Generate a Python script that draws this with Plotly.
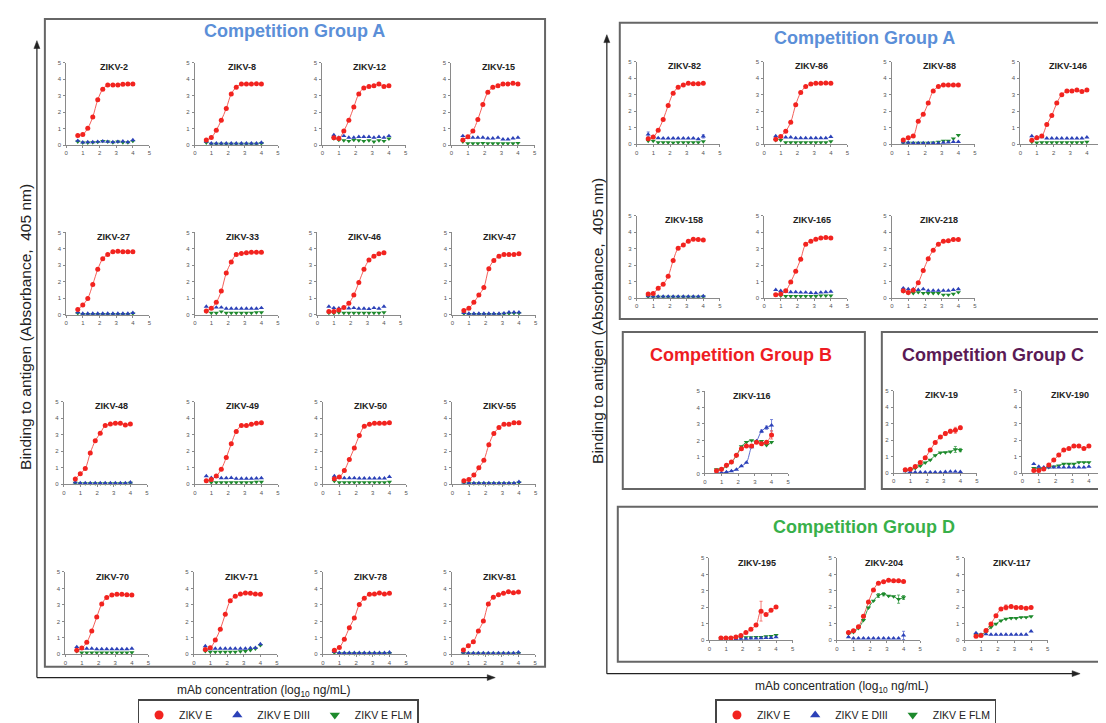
import plotly.graph_objects as go

# ---------------- data ----------------
conc_log10 = [0.69, 0.99, 1.29, 1.59, 1.89, 2.19, 2.49, 2.80, 3.10, 3.40, 3.70, 4.00]
series_names = ["ZIKV E", "ZIKV E DIII", "ZIKV E FLM"]
axis_ticks = [0, 1, 2, 3, 4, 5]

# Left panel, Competition Group A
ZIKV_2_E = [0.58, 0.64, 1.02, 1.70, 2.74, 3.38, 3.64, 3.64, 3.64, 3.68, 3.70, 3.70]
ZIKV_2_DIII = [0.26, 0.16, 0.18, 0.18, 0.20, 0.22, 0.20, 0.18, 0.20, 0.22, 0.18, 0.30]
ZIKV_2_FLM = [0.20, 0.14, 0.14, 0.16, 0.18, 0.24, 0.20, 0.16, 0.20, 0.16, 0.16, 0.24]

ZIKV_8_E = [0.30, 0.45, 0.90, 1.50, 2.22, 3.10, 3.50, 3.70, 3.70, 3.70, 3.72, 3.70]
ZIKV_8_DIII = [0.20, 0.10, 0.10, 0.10, 0.10, 0.10, 0.10, 0.10, 0.10, 0.10, 0.10, 0.15]
ZIKV_8_FLM = [0.14, 0.07, 0.07, 0.07, 0.07, 0.07, 0.07, 0.07, 0.07, 0.07, 0.07, 0.10]

ZIKV_12_E = [0.44, 0.40, 0.85, 1.50, 2.30, 3.10, 3.45, 3.55, 3.60, 3.70, 3.55, 3.60]
ZIKV_12_DIII = [0.60, 0.45, 0.55, 0.45, 0.45, 0.50, 0.50, 0.50, 0.45, 0.50, 0.45, 0.55]
ZIKV_12_FLM = [0.40, 0.30, 0.28, 0.24, 0.30, 0.28, 0.24, 0.28, 0.20, 0.28, 0.24, 0.38]

ZIKV_15_E = [0.30, 0.50, 0.85, 1.55, 2.45, 3.20, 3.50, 3.60, 3.70, 3.70, 3.75, 3.70]
ZIKV_15_DIII = [0.55, 0.45, 0.45, 0.45, 0.45, 0.40, 0.40, 0.45, 0.35, 0.35, 0.40, 0.45]
ZIKV_15_FLM = [0.20, 0.10, 0.10, 0.10, 0.12, 0.10, 0.10, 0.10, 0.10, 0.10, 0.10, 0.12]

ZIKV_27_E = [0.32, 0.60, 1.00, 1.84, 2.76, 3.40, 3.66, 3.82, 3.86, 3.82, 3.82, 3.82]
ZIKV_27_DIII = [0.15, 0.08, 0.08, 0.08, 0.08, 0.08, 0.08, 0.08, 0.08, 0.08, 0.08, 0.12]
ZIKV_27_FLM = [0.10, 0.05, 0.05, 0.05, 0.05, 0.05, 0.05, 0.05, 0.05, 0.05, 0.05, 0.08]

ZIKV_33_E = [0.24, 0.40, 0.76, 1.44, 2.54, 3.20, 3.66, 3.72, 3.76, 3.80, 3.80, 3.80]
ZIKV_33_DIII = [0.50, 0.40, 0.45, 0.45, 0.38, 0.38, 0.38, 0.38, 0.38, 0.38, 0.38, 0.42]
ZIKV_33_FLM = [0.20, 0.12, 0.12, 0.20, 0.12, 0.12, 0.12, 0.12, 0.12, 0.12, 0.15, 0.15]

ZIKV_46_E = [0.20, 0.20, 0.30, 0.44, 0.70, 1.20, 1.96, 2.76, 3.32, 3.56, 3.70, 3.76]
ZIKV_46_DIII = [0.50, 0.42, 0.40, 0.42, 0.40, 0.42, 0.38, 0.38, 0.36, 0.42, 0.38, 0.50]
ZIKV_46_FLM = [0.12, 0.10, 0.15, 0.12, 0.12, 0.12, 0.12, 0.12, 0.12, 0.12, 0.12, 0.15]

ZIKV_47_E = [0.26, 0.40, 0.76, 1.20, 1.66, 2.80, 3.30, 3.56, 3.66, 3.66, 3.66, 3.70]
ZIKV_47_DIII = [0.12, 0.08, 0.08, 0.08, 0.08, 0.08, 0.08, 0.08, 0.10, 0.15, 0.15, 0.15]
ZIKV_47_FLM = [0.08, 0.05, 0.05, 0.05, 0.05, 0.05, 0.05, 0.05, 0.06, 0.08, 0.10, 0.10]

ZIKV_48_E = [0.32, 0.64, 0.96, 1.90, 2.64, 3.10, 3.56, 3.66, 3.70, 3.70, 3.60, 3.66]
ZIKV_48_DIII = [0.12, 0.08, 0.08, 0.08, 0.08, 0.08, 0.08, 0.08, 0.08, 0.08, 0.08, 0.12]
ZIKV_48_FLM = [0.08, 0.06, 0.06, 0.06, 0.06, 0.06, 0.06, 0.06, 0.06, 0.06, 0.06, 0.08]

ZIKV_49_E = [0.22, 0.30, 0.50, 0.92, 1.62, 2.46, 3.20, 3.56, 3.56, 3.64, 3.70, 3.74]
ZIKV_49_DIII = [0.50, 0.40, 0.45, 0.38, 0.38, 0.40, 0.35, 0.35, 0.35, 0.35, 0.36, 0.38]
ZIKV_49_FLM = [0.20, 0.12, 0.12, 0.12, 0.12, 0.12, 0.12, 0.12, 0.12, 0.12, 0.15, 0.15]

ZIKV_50_E = [0.34, 0.44, 0.84, 1.50, 2.20, 2.96, 3.52, 3.64, 3.70, 3.70, 3.70, 3.74]
ZIKV_50_DIII = [0.50, 0.42, 0.38, 0.38, 0.38, 0.36, 0.36, 0.36, 0.36, 0.36, 0.36, 0.45]
ZIKV_50_FLM = [0.20, 0.12, 0.12, 0.12, 0.12, 0.12, 0.12, 0.12, 0.12, 0.12, 0.12, 0.15]

ZIKV_55_E = [0.22, 0.30, 0.56, 1.00, 1.46, 2.40, 3.08, 3.44, 3.64, 3.64, 3.74, 3.74]
ZIKV_55_DIII = [0.12, 0.08, 0.08, 0.08, 0.08, 0.08, 0.08, 0.08, 0.08, 0.08, 0.08, 0.15]
ZIKV_55_FLM = [0.08, 0.05, 0.05, 0.05, 0.05, 0.05, 0.05, 0.05, 0.05, 0.05, 0.05, 0.10]

ZIKV_70_E = [0.25, 0.38, 0.73, 1.42, 2.26, 3.05, 3.45, 3.60, 3.64, 3.64, 3.62, 3.60]
ZIKV_70_DIII = [0.45, 0.35, 0.35, 0.35, 0.32, 0.32, 0.32, 0.32, 0.32, 0.32, 0.32, 0.35]
ZIKV_70_FLM = [0.20, 0.10, 0.10, 0.10, 0.10, 0.10, 0.10, 0.10, 0.10, 0.10, 0.10, 0.12]

ZIKV_71_E = [0.30, 0.40, 0.87, 1.52, 2.44, 3.25, 3.52, 3.66, 3.72, 3.70, 3.66, 3.64]
ZIKV_71_DIII = [0.50, 0.32, 0.35, 0.35, 0.35, 0.35, 0.35, 0.35, 0.35, 0.38, 0.40, 0.62]
ZIKV_71_FLM = [0.20, 0.15, 0.15, 0.15, 0.15, 0.15, 0.15, 0.18, 0.20, 0.25, 0.35, 0.55]

ZIKV_78_E = [0.25, 0.42, 0.92, 1.62, 2.20, 3.02, 3.40, 3.64, 3.66, 3.72, 3.66, 3.70]
ZIKV_78_DIII = [0.16, 0.10, 0.10, 0.10, 0.10, 0.10, 0.10, 0.10, 0.10, 0.10, 0.10, 0.12]
ZIKV_78_FLM = [0.10, 0.06, 0.06, 0.06, 0.06, 0.06, 0.06, 0.06, 0.06, 0.06, 0.06, 0.08]

ZIKV_81_E = [0.27, 0.53, 0.77, 1.42, 2.02, 3.05, 3.46, 3.62, 3.70, 3.80, 3.74, 3.78]
ZIKV_81_DIII = [0.12, 0.08, 0.08, 0.08, 0.08, 0.08, 0.08, 0.08, 0.08, 0.08, 0.08, 0.12]
ZIKV_81_FLM = [0.08, 0.05, 0.05, 0.05, 0.05, 0.05, 0.05, 0.05, 0.05, 0.05, 0.05, 0.08]

# Right panel, Competition Group A
ZIKV_82_E = [0.34, 0.44, 0.86, 1.50, 2.36, 3.10, 3.46, 3.60, 3.70, 3.68, 3.68, 3.70]
ZIKV_82_DIII = [0.60, 0.45, 0.38, 0.36, 0.36, 0.36, 0.36, 0.36, 0.36, 0.36, 0.32, 0.48]
ZIKV_82_FLM = [0.20, 0.20, 0.12, 0.12, 0.12, 0.10, 0.12, 0.12, 0.12, 0.12, 0.12, 0.18]

ZIKV_86_E = [0.30, 0.48, 0.80, 1.34, 2.40, 3.14, 3.50, 3.66, 3.70, 3.70, 3.72, 3.70]
ZIKV_86_DIII = [0.50, 0.45, 0.42, 0.42, 0.38, 0.38, 0.38, 0.38, 0.38, 0.38, 0.38, 0.46]
ZIKV_86_FLM = [0.25, 0.25, 0.12, 0.12, 0.12, 0.12, 0.12, 0.12, 0.12, 0.12, 0.12, 0.18]

ZIKV_88_E = [0.26, 0.40, 0.50, 1.40, 1.82, 2.50, 3.24, 3.50, 3.60, 3.60, 3.60, 3.60]
ZIKV_88_DIII = [0.12, 0.10, 0.08, 0.08, 0.08, 0.08, 0.08, 0.08, 0.10, 0.12, 0.15, 0.15]
ZIKV_88_FLM = [0.10, 0.08, 0.08, 0.08, 0.08, 0.08, 0.10, 0.15, 0.20, 0.20, 0.35, 0.55]

ZIKV_146_E = [0.24, 0.40, 0.50, 1.20, 1.74, 2.50, 3.00, 3.24, 3.24, 3.30, 3.20, 3.30]
ZIKV_146_DIII = [0.50, 0.42, 0.44, 0.36, 0.36, 0.36, 0.36, 0.36, 0.36, 0.36, 0.36, 0.42]
ZIKV_146_FLM = [0.15, 0.10, 0.12, 0.12, 0.12, 0.12, 0.12, 0.12, 0.12, 0.12, 0.12, 0.15]

ZIKV_158_E = [0.24, 0.28, 0.60, 0.84, 1.33, 2.28, 3.02, 3.22, 3.45, 3.57, 3.55, 3.52]
ZIKV_158_DIII = [0.12, 0.10, 0.10, 0.10, 0.10, 0.10, 0.10, 0.10, 0.10, 0.10, 0.10, 0.12]
ZIKV_158_FLM = [0.08, 0.07, 0.07, 0.07, 0.07, 0.07, 0.07, 0.07, 0.07, 0.07, 0.07, 0.08]

ZIKV_165_E = [0.20, 0.24, 0.44, 0.97, 1.63, 2.36, 3.26, 3.45, 3.57, 3.65, 3.67, 3.65]
ZIKV_165_DIII = [0.50, 0.44, 0.40, 0.36, 0.36, 0.34, 0.34, 0.32, 0.30, 0.34, 0.36, 0.40]
ZIKV_165_FLM = [0.20, 0.15, 0.12, 0.12, 0.12, 0.12, 0.12, 0.12, 0.12, 0.15, 0.15, 0.15]

ZIKV_218_E = [0.44, 0.34, 0.48, 0.93, 1.67, 2.38, 2.90, 3.27, 3.45, 3.47, 3.55, 3.55]
ZIKV_218_DIII = [0.60, 0.55, 0.55, 0.50, 0.55, 0.45, 0.45, 0.45, 0.45, 0.45, 0.50, 0.55]
ZIKV_218_FLM = [0.40, 0.30, 0.30, 0.35, 0.30, 0.30, 0.30, 0.30, 0.20, 0.20, 0.25, 0.35]

# Competition Group B
ZIKV_116_E = [0.16, 0.26, 0.50, 0.70, 1.10, 1.50, 1.66, 1.66, 1.90, 1.80, 1.90, 2.34]
ZIKV_116_DIII = [0.05, 0.04, 0.08, 0.14, 0.24, 0.45, 0.66, 1.60, 1.96, 2.56, 2.78, 2.92]
ZIKV_116_FLM = [0.24, 0.24, 0.44, 0.68, 1.08, 1.64, 1.90, 2.00, 1.92, 1.96, 1.72, 1.90]

# Competition Group C
ZIKV_19_E = [0.20, 0.24, 0.40, 0.64, 0.94, 1.40, 1.86, 2.20, 2.40, 2.54, 2.60, 2.76]
ZIKV_19_DIII = [0.12, 0.08, 0.06, 0.06, 0.06, 0.06, 0.06, 0.06, 0.08, 0.10, 0.10, 0.08]
ZIKV_19_FLM = [0.15, 0.20, 0.30, 0.44, 0.64, 0.80, 1.08, 1.24, 1.26, 1.30, 1.44, 1.40]

ZIKV_190_E = [0.16, 0.16, 0.26, 0.50, 0.80, 1.10, 1.40, 1.50, 1.64, 1.64, 1.50, 1.64]
ZIKV_190_DIII = [0.56, 0.40, 0.36, 0.36, 0.36, 0.36, 0.36, 0.36, 0.36, 0.36, 0.36, 0.40]
ZIKV_190_FLM = [0.30, 0.28, 0.30, 0.36, 0.40, 0.46, 0.56, 0.56, 0.56, 0.66, 0.66, 0.66]

# Competition Group D
ZIKV_195_E = [0.14, 0.14, 0.14, 0.20, 0.30, 0.48, 0.67, 0.93, 1.77, 1.57, 1.82, 2.02]
ZIKV_195_DIII = [0.08, 0.08, 0.08, 0.08, 0.10, 0.10, 0.12, 0.12, 0.14, 0.16, 0.16, 0.20]
ZIKV_195_FLM = [0.10, 0.10, 0.12, 0.12, 0.16, 0.18, 0.18, 0.20, 0.20, 0.24, 0.26, 0.32]

ZIKV_204_E = [0.48, 0.58, 0.83, 1.47, 2.32, 3.06, 3.47, 3.55, 3.65, 3.61, 3.61, 3.57]
ZIKV_204_DIII = [0.20, 0.12, 0.12, 0.12, 0.12, 0.12, 0.12, 0.12, 0.12, 0.12, 0.12, 0.30]
ZIKV_204_FLM = [0.40, 0.50, 0.74, 1.22, 1.98, 2.40, 2.72, 2.80, 2.70, 2.66, 2.50, 2.60]

ZIKV_117_E = [0.25, 0.30, 0.60, 1.00, 1.50, 1.90, 2.00, 2.05, 2.00, 2.00, 1.95, 2.00]
ZIKV_117_DIII = [0.45, 0.35, 0.38, 0.35, 0.35, 0.35, 0.35, 0.35, 0.35, 0.35, 0.35, 0.55]
ZIKV_117_FLM = [0.30, 0.35, 0.50, 0.80, 1.00, 1.20, 1.30, 1.35, 1.35, 1.40, 1.40, 1.45]

# error bars (SD) visible in the picture; zero where no bar shows
ZIKV_116_E_sd = [0, 0, 0, 0, 0, 0, 0, 0, 0, 0, 0, 0.25]
ZIKV_116_DIII_sd = [0, 0, 0, 0, 0, 0, 0, 0, 0, 0.08, 0.10, 0.35]
ZIKV_19_E_sd = [0, 0, 0, 0, 0, 0.08, 0, 0, 0.12, 0.12, 0.18, 0.10]
ZIKV_19_FLM_sd = [0, 0, 0, 0, 0, 0, 0, 0, 0, 0, 0.18, 0.10]
ZIKV_195_E_sd = [0, 0, 0, 0, 0, 0, 0, 0, 0.60, 0, 0, 0]
ZIKV_204_FLM_sd = [0, 0, 0, 0, 0, 0, 0.12, 0.10, 0, 0, 0.25, 0.12]
ZIKV_204_DIII_sd = [0, 0, 0, 0, 0, 0, 0, 0, 0, 0, 0, 0.25]
ZIKV_117_E_sd = [0, 0, 0, 0, 0, 0, 0.15, 0, 0, 0, 0, 0]
ZIKV_82_DIII_sd = [0.15, 0, 0, 0, 0, 0, 0, 0, 0, 0, 0, 0.10]

# --------------- table of panels (data refs + which series carry a fitted line) ----------
panels = [
    ("ZIKV-2", ZIKV_2_E, ZIKV_2_DIII, ZIKV_2_FLM, (1, 0, 0)),
    ("ZIKV-8", ZIKV_8_E, ZIKV_8_DIII, ZIKV_8_FLM, (1, 0, 0)),
    ("ZIKV-12", ZIKV_12_E, ZIKV_12_DIII, ZIKV_12_FLM, (1, 0, 0)),
    ("ZIKV-15", ZIKV_15_E, ZIKV_15_DIII, ZIKV_15_FLM, (1, 0, 0)),
    ("ZIKV-27", ZIKV_27_E, ZIKV_27_DIII, ZIKV_27_FLM, (1, 0, 0)),
    ("ZIKV-33", ZIKV_33_E, ZIKV_33_DIII, ZIKV_33_FLM, (1, 0, 0)),
    ("ZIKV-46", ZIKV_46_E, ZIKV_46_DIII, ZIKV_46_FLM, (1, 0, 0)),
    ("ZIKV-47", ZIKV_47_E, ZIKV_47_DIII, ZIKV_47_FLM, (1, 0, 0)),
    ("ZIKV-48", ZIKV_48_E, ZIKV_48_DIII, ZIKV_48_FLM, (1, 0, 0)),
    ("ZIKV-49", ZIKV_49_E, ZIKV_49_DIII, ZIKV_49_FLM, (1, 0, 0)),
    ("ZIKV-50", ZIKV_50_E, ZIKV_50_DIII, ZIKV_50_FLM, (1, 0, 0)),
    ("ZIKV-55", ZIKV_55_E, ZIKV_55_DIII, ZIKV_55_FLM, (1, 0, 0)),
    ("ZIKV-70", ZIKV_70_E, ZIKV_70_DIII, ZIKV_70_FLM, (1, 0, 0)),
    ("ZIKV-71", ZIKV_71_E, ZIKV_71_DIII, ZIKV_71_FLM, (1, 0, 0)),
    ("ZIKV-78", ZIKV_78_E, ZIKV_78_DIII, ZIKV_78_FLM, (1, 0, 0)),
    ("ZIKV-81", ZIKV_81_E, ZIKV_81_DIII, ZIKV_81_FLM, (1, 0, 0)),
    ("ZIKV-82", ZIKV_82_E, ZIKV_82_DIII, ZIKV_82_FLM, (1, 0, 0)),
    ("ZIKV-86", ZIKV_86_E, ZIKV_86_DIII, ZIKV_86_FLM, (1, 0, 0)),
    ("ZIKV-88", ZIKV_88_E, ZIKV_88_DIII, ZIKV_88_FLM, (1, 0, 0)),
    ("ZIKV-146", ZIKV_146_E, ZIKV_146_DIII, ZIKV_146_FLM, (1, 0, 0)),
    ("ZIKV-158", ZIKV_158_E, ZIKV_158_DIII, ZIKV_158_FLM, (1, 0, 0)),
    ("ZIKV-165", ZIKV_165_E, ZIKV_165_DIII, ZIKV_165_FLM, (1, 0, 0)),
    ("ZIKV-218", ZIKV_218_E, ZIKV_218_DIII, ZIKV_218_FLM, (1, 0, 0)),
    ("ZIKV-116", ZIKV_116_E, ZIKV_116_DIII, ZIKV_116_FLM, (1, 1, 1)),
    ("ZIKV-19", ZIKV_19_E, ZIKV_19_DIII, ZIKV_19_FLM, (1, 0, 1)),
    ("ZIKV-190", ZIKV_190_E, ZIKV_190_DIII, ZIKV_190_FLM, (1, 0, 1)),
    ("ZIKV-195", ZIKV_195_E, ZIKV_195_DIII, ZIKV_195_FLM, (1, 0, 0)),
    ("ZIKV-204", ZIKV_204_E, ZIKV_204_DIII, ZIKV_204_FLM, (1, 0, 1)),
    ("ZIKV-117", ZIKV_117_E, ZIKV_117_DIII, ZIKV_117_FLM, (1, 0, 1)),
]
# (panel name, series index) -> error array
errors = {
    ("ZIKV-116", 0): ZIKV_116_E_sd, ("ZIKV-116", 1): ZIKV_116_DIII_sd,
    ("ZIKV-19", 0): ZIKV_19_E_sd, ("ZIKV-19", 2): ZIKV_19_FLM_sd,
    ("ZIKV-195", 0): ZIKV_195_E_sd,
    ("ZIKV-204", 2): ZIKV_204_FLM_sd, ("ZIKV-204", 1): ZIKV_204_DIII_sd,
    ("ZIKV-117", 0): ZIKV_117_E_sd, ("ZIKV-82", 1): ZIKV_82_DIII_sd,
}

# --------------- layout geometry (pixels: x of y-axis, y of x-axis) ----------------
W, H = 1106, 723
SIDE = 83.5
panel_px = [
    (56.5, 135.7), (185.5, 135.7), (313.5, 135.7), (443, 135.7),
    (56.5, 307.7), (185.5, 307.7), (308.5, 307.7), (444, 307.7),
    (54, 479.3), (185.5, 479.3), (314, 479.3), (444, 479.3),
    (55.5, 651.5), (184.5, 651.5), (314, 651.5), (443.5, 651.5),
    (629, 135), (757, 135), (885, 135), (1014, 135),
    (629, 290.7), (757, 290.7), (885, 290.7),
    (697.5, 468.3),
    (887, 468), (1016, 468),
    (702, 637.3), (830, 637.3), (958, 637.3),
]


def px(x):
    return x / W


def py(y):
    return 1 - y / H


RED, BLUE, GREEN = "#F2231F", "#2B41B8", "#1D8A2C"
LINE_COL = ["#F4605A", "#5A6BD0", "#3E9E4C"]
COLORS = [RED, BLUE, GREEN]
SYMBOLS = ["circle", "triangle-up", "triangle-down"]
SIZES = [5.0, 4.6, 4.6]
FONT = "Arial, Liberation Sans, sans-serif"

fig = go.Figure()
layout_axes = {}
annotations = []

for i, ((name, e, d3, flm, fits), (x0, y0)) in enumerate(zip(panels, panel_px), start=1):
    xa = "x" if i == 1 else f"x{i}"
    ya = "y" if i == 1 else f"y{i}"
    series = [e, d3, flm]
    # fitted lines
    for k in (2, 1, 0):
        if fits[k]:
            fig.add_trace(go.Scatter(
                x=conc_log10, y=series[k], mode="lines", xaxis=xa, yaxis=ya,
                line=dict(color=LINE_COL[k], width=1, shape="spline", smoothing=1.0),
                showlegend=False, hoverinfo="skip", cliponaxis=False))
    # markers (green, blue, then red on top)
    for k in (2, 1, 0):
        err = errors.get((name, k))
        fig.add_trace(go.Scatter(
            x=conc_log10, y=series[k], mode="markers", xaxis=xa, yaxis=ya,
            marker=dict(color=COLORS[k], symbol=SYMBOLS[k], size=SIZES[k], line=dict(width=0)),
            error_y=(dict(type="data", array=err, visible=True, color=LINE_COL[k],
                          thickness=0.8, width=1.5) if err else None),
            name=series_names[k], showlegend=False, cliponaxis=False))
    common = dict(range=[0, 5], tickvals=axis_ticks, ticktext=[str(t) for t in axis_ticks],
                  showline=True, linecolor="#8a8a8a", linewidth=1, ticks="outside", ticklen=2,
                  tickwidth=0.8, tickcolor="#8a8a8a", tickfont=dict(size=6, color="#555", family=FONT),
                  showgrid=False, zeroline=False, fixedrange=True)
    layout_axes["xaxis" if i == 1 else f"xaxis{i}"] = dict(
        domain=[px(x0), px(x0 + SIDE)], anchor=ya, ticklabelstandoff=0, **common)
    layout_axes["yaxis" if i == 1 else f"yaxis{i}"] = dict(
        domain=[py(y0), py(y0 - SIDE)], anchor=xa, ticklabelstandoff=1, **common)
    annotations.append(dict(
        text=f"<b>{name}</b>", x=2.85, y=4.72, xref=xa, yref=ya, showarrow=False,
        font=dict(size=9, color="#222", family=FONT), xanchor="center", yanchor="middle"))

# legend-only entries (one legend per panel)
for lg, xa, ya in (("legend", "x", "y"), ("legend2", "x17", "y17")):
    for k in range(3):
        fig.add_trace(go.Scatter(
            x=[None], y=[None], mode="markers", xaxis=xa, yaxis=ya, name=series_names[k],
            marker=dict(color=COLORS[k], symbol=SYMBOLS[k], size=9), legend=lg, showlegend=True))

# group titles
group_titles = [
    ("Competition Group A", 286, 20, "#5B8FD8"),
    ("Competition Group A", 858, 27, "#5B8FD8"),
    ("Competition Group B", 734, 348, "#EE1C23"),
    ("Competition Group C", 987, 348, "#5A1A55"),
    ("Competition Group D", 857, 522, "#38B04A"),
]
for txt, cx, cy, col in group_titles:
    annotations.append(dict(text=f"<b>{txt}</b>", x=px(cx), y=py(cy), xref="paper", yref="paper",
                            showarrow=False, xanchor="center", yanchor="middle",
                            font=dict(size=18, color=col, family=FONT)))

# axis titles
for cx, cy in ((254, 689), (835, 685)):
    annotations.append(dict(text="mAb concentration (log<sub>10</sub> ng/mL)", x=px(cx), y=py(cy),
                            xref="paper", yref="paper", showarrow=False, xanchor="center",
                            yanchor="middle", font=dict(size=12, color="#222", family=FONT)))
for cx, cy in (15, 320), (589, 314):
    annotations.append(dict(text="Binding to antigen (Absorbance,  405 nm)", x=px(cx), y=py(cy),
                            xref="paper", yref="paper", showarrow=False, textangle=-90,
                            xanchor="center", yanchor="middle",
                            font=dict(size=15.5, color="#222", family=FONT)))

# boxes and arrows
shapes = []
box_style = dict(color="#666", width=2)
for x1, y1, x2, y2 in ((35, 8, 537, 664), (612, 12, 1112, 312), (615, 325, 858, 484),
                       (875, 325, 1112, 484), (610, 502, 1112, 659)):
    shapes.append(dict(type="rect", xref="paper", yref="paper", x0=px(x1), x1=px(x2),
                       y0=py(y2), y1=py(y1), line=box_style, fillcolor="rgba(0,0,0,0)", layer="below"))

arrow_col = "#222"
for vx, vtop, hy, hright in ((27, 30, 675, 487), (599, 24, 671, 1074)):
    shapes.append(dict(type="line", xref="paper", yref="paper", x0=px(vx), x1=px(vx),
                       y0=py(hy), y1=py(vtop + 5), line=dict(color=arrow_col, width=1.2)))
    shapes.append(dict(type="line", xref="paper", yref="paper", x0=px(vx), x1=px(hright - 5),
                       y0=py(hy), y1=py(hy), line=dict(color=arrow_col, width=1.2)))
    shapes.append(dict(type="path", xref="paper", yref="paper",
                       path=f"M {px(vx-3)} {py(vtop+8)} L {px(vx)} {py(vtop)} L {px(vx+3)} {py(vtop+8)} Z",
                       fillcolor=arrow_col, line=dict(color=arrow_col, width=0.5)))
    shapes.append(dict(type="path", xref="paper", yref="paper",
                       path=f"M {px(hright-8)} {py(hy-3)} L {px(hright)} {py(hy)} L {px(hright-8)} {py(hy+3)} Z",
                       fillcolor=arrow_col, line=dict(color=arrow_col, width=0.5)))

legend_common = dict(orientation="h", xanchor="left", yanchor="top", bgcolor="white",
                     bordercolor="#444", borderwidth=1.5, font=dict(size=10.5, color="#222", family=FONT),
                     itemclick=False, itemdoubleclick=False)

fig.update_layout(
    width=W, height=H, autosize=False,
    margin=dict(l=0, r=0, t=0, b=0),
    paper_bgcolor="white", plot_bgcolor="white",
    font=dict(family=FONT),
    annotations=annotations, shapes=shapes,
    legend=dict(x=px(128), y=py(697), **legend_common),
    legend2=dict(x=px(708), y=py(697), **legend_common),
    **layout_axes,
)

fig.write_html("out.html")
